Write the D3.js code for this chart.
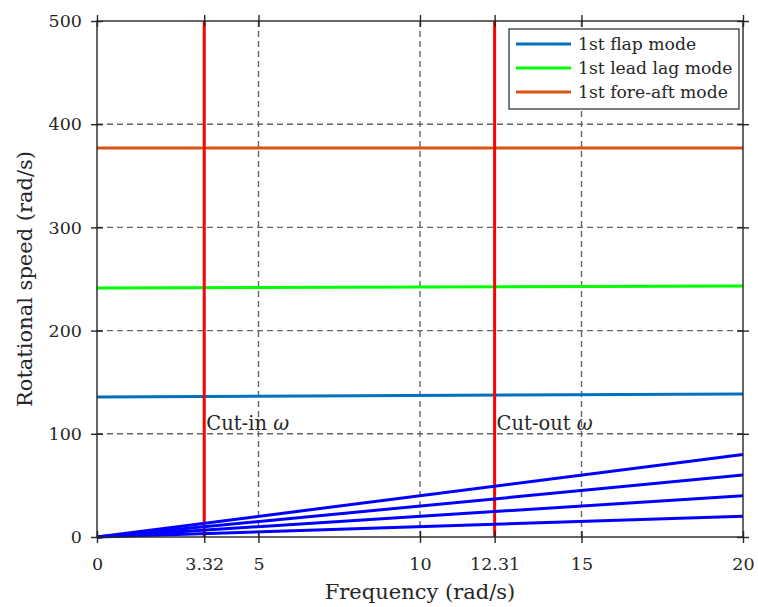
<!DOCTYPE html>
<html>
<head>
<meta charset="utf-8">
<script src="https://cdn.jsdelivr.net/npm/d3@7"></script>
<style>
  html, body { margin: 0; padding: 0; background: #fff; }
  svg text { font-family: "DejaVu Serif", "Liberation Serif", serif; fill: #262626; }
</style>
</head>
<body>
<svg id="chart" width="758" height="607"></svg>
<script>
// ---- data ----
const xTickValues = [0, 3.32, 5, 10, 12.31, 15, 20];
const xTickLabels = ["0", "3.32", "5", "10", "12.31", "15", "20"];
const yTickValues = [0, 100, 200, 300, 400, 500];
const yTickLabels = ["0", "100", "200", "300", "400", "500"];
const xGridValues = [3.32, 5, 10, 12.31, 15];
const yGridValues = [100, 200, 300, 400];

const modeNames = ["1st flap mode", "1st lead lag mode", "1st fore-aft mode"];
const modeFreq = [0, 20];
const flapMode = [135.7, 138.6];
const leadLagMode = [241.3, 243.2];
const foreAftMode = [377, 377];
const modeColors = ["#0072BD", "#00FF00", "#D95319"];

const cutLines = [3.32, 12.31];
const cutLabels = ["Cut-in ", "Cut-out "];
const cutLabelY = 110;

const excitationX = [0, 20];
const excitation1 = [0, 20];
const excitation2 = [0, 40];
const excitation3 = [0, 60];
const excitation4 = [0, 80];

// ---- layout ----
const svg = d3.select("#chart");
const L = 97, R = 743, T = 21, B = 537;
const x = d3.scaleLinear().domain([0, 20]).range([L, R]);
const y = d3.scaleLinear().domain([0, 500]).range([B, T]);
const axisColor = "#262626";

// grid
const grid = svg.append("g");
grid.selectAll("line.h").data(yGridValues).join("line")
  .attr("x1", L).attr("x2", R).attr("y1", d => y(d)).attr("y2", d => y(d))
  .attr("stroke", "#666").attr("stroke-width", 1.4).attr("stroke-dasharray", "6,4");
grid.selectAll("line.v").data(xGridValues).join("line")
  .attr("y1", T).attr("y2", B).attr("x1", d => x(d)).attr("x2", d => x(d))
  .attr("stroke", "#666").attr("stroke-width", 1.4).attr("stroke-dasharray", "6,4");

const line = d3.line().x(d => x(d[0])).y(d => y(d[1]));

// mode lines
const modes = [flapMode, leadLagMode, foreAftMode];
modes.forEach((m, i) => {
  svg.append("path").datum(modeFreq.map((f, j) => [f, m[j]]))
    .attr("d", line).attr("fill", "none")
    .attr("stroke", modeColors[i]).attr("stroke-width", 3);
});

// cut-in / cut-out vertical lines
cutLines.forEach((c, i) => {
  svg.append("path").datum([[c, 0], [c, 500]])
    .attr("d", line).attr("fill", "none")
    .attr("stroke", "#FF0000").attr("stroke-width", 3);
  const t = svg.append("text")
    .attr("x", x(c) + 2).attr("y", y(cutLabelY) + 7)
    .attr("font-size", 19.5);
  t.append("tspan").text(cutLabels[i]);
  t.append("tspan").attr("font-style", "italic").text("ω");
});

// excitation lines
[excitation1, excitation2, excitation3, excitation4].forEach(e => {
  svg.append("path").datum(excitationX.map((f, j) => [f, e[j]]))
    .attr("d", line).attr("fill", "none")
    .attr("stroke", "#0000FF").attr("stroke-width", 3);
});

// axes
function styleAxis(g, inner) {
  g.select(".domain").remove();
  g.selectAll(".tick line").attr("stroke", axisColor).attr("stroke-width", 1.4);
  g.selectAll(".tick").append("line").attr("stroke", axisColor).attr("stroke-width", 1.4)
    .each(function() { d3.select(this).attr(inner.a, 0).attr(inner.b, inner.v); });
}
const xAxis = svg.append("g").attr("transform", `translate(0,${B})`)
  .call(d3.axisBottom(x).tickValues(xTickValues).tickFormat((d, i) => xTickLabels[i]).tickSize(6).tickPadding(15));
xAxis.call(g => styleAxis(g, {a: "y1", b: "y2", v: -6}));
xAxis.selectAll("text").attr("font-size", 17.5).attr("font-family", "DejaVu Serif").attr("fill", axisColor);

const xTop = svg.append("g").attr("transform", `translate(0,${T})`)
  .call(d3.axisTop(x).tickValues(xTickValues).tickFormat("").tickSize(6));
xTop.call(g => styleAxis(g, {a: "y1", b: "y2", v: 6}));

const yAxis = svg.append("g").attr("transform", `translate(${L},0)`)
  .call(d3.axisLeft(y).tickValues(yTickValues).tickFormat((d, i) => yTickLabels[i]).tickSize(6).tickPadding(9));
yAxis.call(g => styleAxis(g, {a: "x1", b: "x2", v: 6}));
yAxis.selectAll("text").attr("font-size", 17.5).attr("font-family", "DejaVu Serif").attr("fill", axisColor);

const yRight = svg.append("g").attr("transform", `translate(${R},0)`)
  .call(d3.axisRight(y).tickValues(yTickValues).tickFormat("").tickSize(6));
yRight.call(g => styleAxis(g, {a: "x1", b: "x2", v: -6}));

// frame
svg.append("rect").attr("x", L).attr("y", T).attr("width", R - L).attr("height", B - T)
  .attr("fill", "none").attr("stroke", axisColor).attr("stroke-width", 1.4);

// axis titles
svg.append("text").attr("x", 420).attr("y", 599)
  .attr("text-anchor", "middle").attr("font-size", 21).text("Frequency (rad/s)");
svg.append("text").attr("transform", `translate(32,${(T + B) / 2}) rotate(-90)`)
  .attr("text-anchor", "middle").attr("font-size", 21).text("Rotational speed (rad/s)");

// legend
const lg = svg.append("g");
lg.append("rect").attr("x", 509).attr("y", 29).attr("width", 230).attr("height", 80)
  .attr("fill", "#fff").attr("stroke", axisColor).attr("stroke-width", 1.2);
modeNames.forEach((n, i) => {
  const yy = 44 + i * 24;
  lg.append("line").attr("x1", 516).attr("x2", 571).attr("y1", yy).attr("y2", yy)
    .attr("stroke", modeColors[i]).attr("stroke-width", 3);
  lg.append("text").attr("x", 578).attr("y", yy + 6).attr("font-size", 17.2).text(n);
});
</script>
</body>
</html>
